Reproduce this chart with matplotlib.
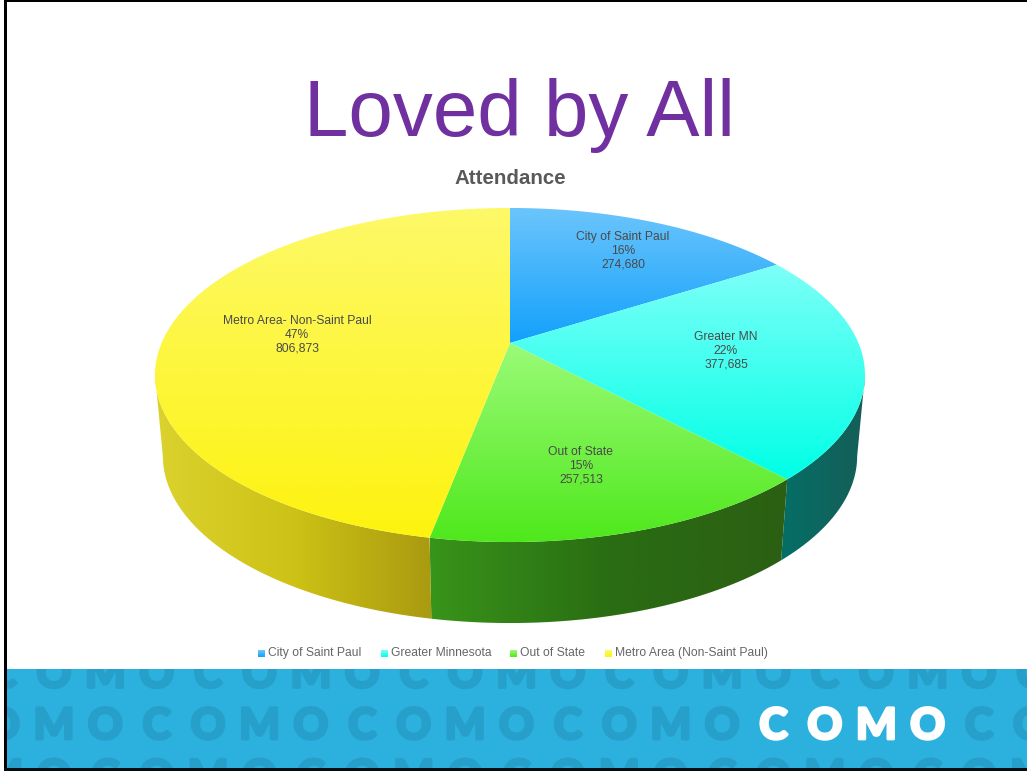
import numpy as np
import matplotlib
matplotlib.use('Agg')
import matplotlib.pyplot as plt
import matplotlib.patheffects as pe
from matplotlib.patches import Polygon, Rectangle
from matplotlib.colors import LinearSegmentedColormap

names = ['City of Saint Paul', 'Greater MN', 'Out of State', 'Metro Area- Non-Saint Paul']
legend_names = ['City of Saint Paul', 'Greater Minnesota', 'Out of State', 'Metro Area (Non-Saint Paul)']
values = [274680, 377685, 257513, 806873]

top_colors = [['#6cc5fc', '#12a1fb'], ['#7dfff8', '#00ffe6'], ['#9bfb78', '#4fe81c'], ['#fdf968', '#fdf30f']]
side_colors = [['#0f6fa8', '#0f6fa8'], ['#046f66', '#155e58'], ['#38941a', '#2a6d13', '#2c5f13'],
               ['#dcd22f', '#cdc215', '#a99a10']]
label_xy = [(623, 251), (726, 351), (581, 466), (297, 335)]
legend_x = [258, 381, 510, 605]

fig = plt.figure(figsize=(10.27, 7.71), dpi=100)
ax = fig.add_axes([0, 0, 1, 1])
ax.set_xlim(0, 1027)
ax.set_ylim(771, 0)
ax.axis('off')

# pie is a circle seen through a perspective, this maps it to pixels
cx, cy, a, b, k = 510, 343, 348.4, 160.9, 0.1916
def top_pt(t):
    w = 1 + k * np.cos(t)
    return cx + a * np.sin(t) / w, cy - b * np.cos(t) / w

def bottom_pt(t):
    x, y = top_pt(t)
    return cx + 0.978 * (x - cx), y + 81

def grad_fill(pts, colors, horizontal=False):
    pts = np.array(pts)
    x0, y0 = pts.min(axis=0)
    x1, y1 = pts.max(axis=0)
    cmap = LinearSegmentedColormap.from_list('g', colors)
    g = np.linspace(0, 1, 256)
    g = g.reshape(1, -1) if horizontal else g.reshape(-1, 1)
    im = ax.imshow(g, cmap=cmap, extent=(x0, x1, y1, y0), aspect='auto', zorder=3, interpolation='bilinear')
    poly = Polygon(pts, closed=True, transform=ax.transData, fc='none', ec='none')
    ax.add_patch(poly)
    im.set_clip_path(poly)

total = sum(values)
edges = np.cumsum([0] + values) / total * 2 * np.pi

# only the front of the rim shows, between the two silhouette angles
front_lo = np.arccos(-k)
front_hi = 2 * np.pi - front_lo
for i in range(len(values)):
    lo = max(edges[i], front_lo)
    hi = min(edges[i + 1], front_hi)
    if hi <= lo:
        continue
    t = np.linspace(lo, hi, 200)
    xt, yt = top_pt(t)
    xb, yb = bottom_pt(t)
    pts = list(zip(xt, yt)) + list(zip(xb[::-1], yb[::-1]))
    grad_fill(pts, side_colors[i], horizontal=True)

for i in range(len(values)):
    t = np.linspace(edges[i], edges[i + 1], 200)
    xt, yt = top_pt(t)
    pts = [(cx, cy)] + list(zip(xt, yt))
    grad_fill(pts, top_colors[i])
    label = '%s\n%d%%\n%s' % (names[i], round(values[i] / total * 100), format(values[i], ','))
    ax.text(label_xy[i][0], label_xy[i][1], label, ha='center', va='center', color='#4a4a4a',
            fontsize=8.7, family='Liberation Sans', linespacing=1.17, zorder=5)

# legend
for i in range(len(values)):
    grad_fill([(legend_x[i], 650), (legend_x[i] + 7, 650), (legend_x[i] + 7, 657), (legend_x[i], 657)], top_colors[i])
    ax.text(legend_x[i] + 10, 653, legend_names[i], ha='left', va='center', color='#666666',
            fontsize=8.7, family='Liberation Sans', zorder=5)

ax.text(520, 136, 'Loved by All', ha='center', va='baseline', color='#7030a0', fontsize=57.5,
        family='Liberation Sans')
ax.text(510, 178, 'Attendance', ha='center', va='center', color='#595959', fontsize=14.8,
        family='Liberation Sans', weight='bold')

# footer band with the repeating logo letters
band = Rectangle((7, 669), 1020, 99, fc='#2cb0dd', ec='none', zorder=6)
ax.add_patch(band)
word = 'COMO'
rows = [(671, 0), (722.5, 1), (774, 2)]
for yc, shift in rows:
    for n in range(-1, 21):
        x = 2.5 + n * 51.4
        letter = word[(n + shift) % 4]
        white = yc == 722.5 and 750 < x < 950
        col = 'white' if white else '#279fcb'
        txt = ax.text(x, yc, letter, ha='center', va='center_baseline', fontsize=31, family='Lato', weight='black',
                      color=col, zorder=8 if white else 7, clip_on=True,
                      path_effects=[pe.withStroke(linewidth=2, foreground=col)])
        txt.set_clip_path(band)

# slide border
ax.add_patch(Rectangle((4, 0), 1023, 2, fc='black', ec='none', zorder=9))
ax.add_patch(Rectangle((4, 0), 3, 771, fc='black', ec='none', zorder=9))
ax.add_patch(Rectangle((4, 768), 1023, 3, fc='#021014', ec='none', zorder=9))

fig.savefig('out.png', dpi=100)
